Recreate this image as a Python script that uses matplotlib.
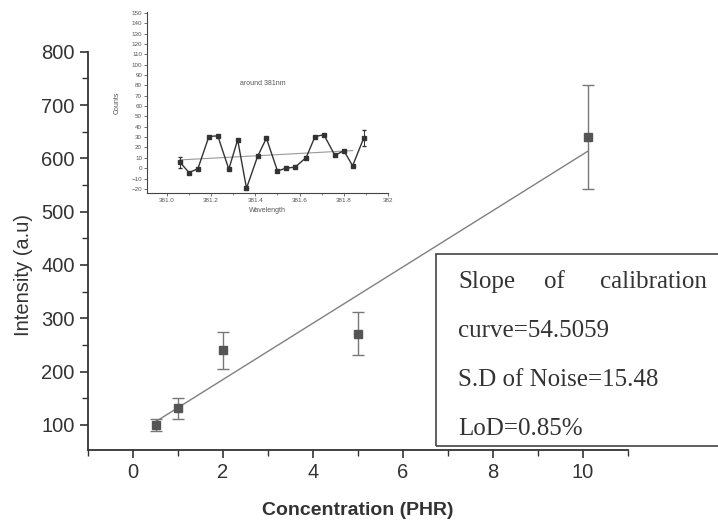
import numpy as np
import matplotlib.pyplot as plt
from matplotlib.ticker import MultipleLocator

# calibration data
conc = [0.5, 1, 2, 5, 10.1]
intensity = [100, 131, 240, 271, 640]
intensity_err = [11, 19, 35, 40, 98]

# fitted line end points
fit_x = [0.5, 10.1]
fit_y = [106, 613]

# inset: noise spectrum around 381 nm
wl = [381.06, 381.10, 381.14, 381.19, 381.23, 381.28, 381.32, 381.36, 381.41, 381.45,
      381.50, 381.54, 381.58, 381.63, 381.67, 381.71, 381.76, 381.80, 381.84, 381.89]
counts = [5.5, -4.2, -0.6, 30.6, 31.3, -1, 27.4, -19.4, 11.3, 29,
          -2.6, 0, 1, 10.3, 30.6, 32.3, 12.3, 17, 2.3, 29]
counts_err = [5, 0, 0, 0, 0, 0, 0, 0, 0, 0, 0, 0, 0, 0, 0, 0, 0, 0, 0, 8]
trend_x = [381.06, 381.84]
trend_y = [8, 17]

box_lines = ["curve=54.5059", "S.D of Noise=15.48", "LoD=0.85%"]

plt.rcParams["font.family"] = ["Liberation Sans", "DejaVu Sans"]

fig = plt.figure(figsize=(7.18, 5.24), dpi=100)
ax = fig.add_axes([88 / 718, 1 - 450 / 524, (628 - 88) / 718, (450 - 51.7) / 524])

ax.plot(fit_x, fit_y, color="#808080", lw=1.0)
ax.errorbar(conc, intensity, yerr=intensity_err, fmt="s", ms=6,
            mfc="#555555", mec="#555555", ecolor="#777777",
            elinewidth=1.0, capsize=4, capthick=1.0)

ax.set_xlim(-1, 11)
ax.set_ylim(53, 800)
ax.xaxis.set_major_locator(MultipleLocator(2))
ax.xaxis.set_minor_locator(MultipleLocator(1))
ax.yaxis.set_minor_locator(MultipleLocator(50))
ax.set_yticks(range(100, 801, 100))
for s in ["top", "right"]:
    ax.spines[s].set_visible(False)
for s in ["left", "bottom"]:
    ax.spines[s].set_color("#333333")
    ax.spines[s].set_linewidth(1.3)
ax.tick_params(which="major", length=6, width=1.2, labelsize=14.5, colors="#333333")
ax.tick_params(which="minor", length=4, width=1.0, colors="#333333")
ax.set_xlabel("Concentration (PHR)", fontsize=14, fontweight="bold", color="#333333", labelpad=14)
ax.set_ylabel("Intensity (a.u)", fontsize=14.5, color="#333333", labelpad=6)
ax.yaxis.set_label_coords(-0.102, 0.44)

# text box
fig.patches.append(plt.Rectangle((436 / 718, 1 - 446 / 524), 0.5, (446 - 254) / 524,
                                 transform=fig.transFigure, fill=False,
                                 edgecolor="#444444", lw=1.2))
serif = ["Liberation Serif", "DejaVu Serif"]
y0 = 1 - 282 / 524
fig.text(458 / 718, y0, "Slope", family=serif, fontsize=18, va="center", color="#333333")
fig.text(544 / 718, y0, "of", family=serif, fontsize=18, va="center", color="#333333")
fig.text(707 / 718, y0, "calibration", family=serif, fontsize=18, va="center", ha="right", color="#333333")
for i, line in enumerate(box_lines):
    fig.text(458 / 718, 1 - (331 + 49 * i) / 524, line, family=serif, fontsize=18,
             va="center", color="#333333")

# inset
ins = fig.add_axes([147 / 718, 1 - 193 / 524, (388 - 147) / 718, (193 - 12) / 524])
ins.plot(trend_x, trend_y, color="#999999", lw=0.8)
ins.errorbar(wl, counts, yerr=counts_err, fmt="s-", ms=2.5, color="#333333",
             lw=1.0, elinewidth=0.7, capsize=1.5)
ins.set_xlim(380.91, 382.0)
ins.set_ylim(-24, 151)
ins.set_xticks([381.0, 381.2, 381.4, 381.6, 381.8, 382.0])
ins.set_xticklabels(["381.0", "381.2", "381.4", "381.6", "381.8", "382"])
ins.xaxis.set_minor_locator(MultipleLocator(0.1))
ins.set_yticks(range(-20, 151, 10))
for s in ["top", "right"]:
    ins.spines[s].set_visible(False)
for s in ["left", "bottom"]:
    ins.spines[s].set_color("#444444")
ins.tick_params(which="major", length=2, width=0.6, labelsize=4.5, colors="#555555", pad=1.5)
ins.tick_params(which="minor", length=1.2, width=0.5, colors="#555555")
ins.set_xlabel("Wavelength", fontsize=5, color="#555555", labelpad=3)
ins.set_ylabel("Counts", fontsize=5, color="#555555", labelpad=8)
ins.text(381.33, 80, "around 381nm", fontsize=5, color="#555555")
ins.patch.set_alpha(0)

fig.savefig("out.png", dpi=100)
